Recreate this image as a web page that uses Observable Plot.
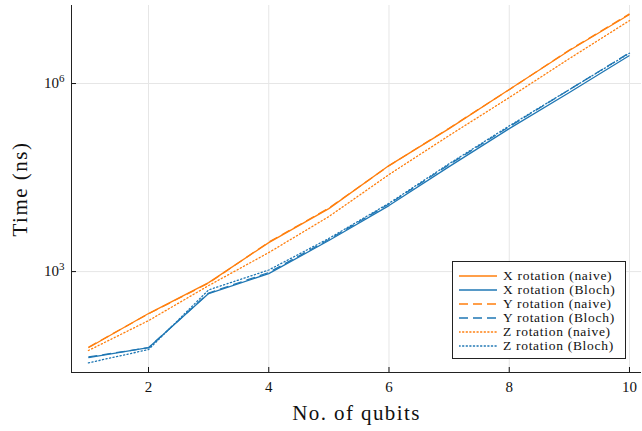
<!DOCTYPE html>
<html>
<head>
<meta charset="utf-8">
<script src="https://cdn.jsdelivr.net/npm/d3@7"></script>
<script src="https://cdn.jsdelivr.net/npm/@observablehq/plot@0.6"></script>
<style>
  html, body { margin: 0; padding: 0; background: #fff; }
  #wrap { position: relative; width: 642px; height: 431px; font-family: "Liberation Serif", serif; }
  #legend { position: absolute; left: 452px; top: 261px; width: 174px; height: 98px; border: 1px solid #222; background: #fff; box-sizing: border-box; }
  #legend .row { position: absolute; left: 0; height: 14px; display: flex; align-items: center; font-size: 13.5px; letter-spacing: 0.7px; color: #111; white-space: nowrap; font-family: "Liberation Serif", serif; }
  #legend svg { margin-left: 6px; margin-right: 6px; }
  #chart svg text { font-family: "Liberation Serif", serif; }
</style>
</head>
<body>
<div id="wrap"><div id="chart"></div><div id="legend"></div></div>
<script>
const qubits = [1, 2, 3, 4, 5, 6, 7, 8, 9, 10];
const xNaive = [61, 214, 667, 2900, 10100, 49100, 191000, 802000, 3360000, 12600000];
const yNaive = [62, 212, 655, 2950, 10300, 48800, 194000, 798000, 3420000, 12900000];
const zNaive = [55, 165, 598, 2010, 7550, 35300, 148000, 597000, 2500000, 10100000];
const xBloch = [42.5, 61, 446, 929, 3130, 11300, 47300, 191000, 718000, 2800000];
const yBloch = [43.5, 61, 455, 965, 3250, 12000, 50900, 205000, 800000, 3100000];
const zBloch = [35, 57, 510, 1060, 3380, 12300, 52500, 211000, 800000, 3050000];
const xTicks = [2, 4, 6, 8, 10];
const yTicks = [1e3, 1e6];

const orange = "#ff7f0e", blue = "#1f77b4";
const series = [
  {name: "X rotation (naive)", values: xNaive, color: orange, dash: null},
  {name: "X rotation (Bloch)", values: xBloch, color: blue, dash: null},
  {name: "Y rotation (naive)", values: yNaive, color: orange, dash: "9,5"},
  {name: "Y rotation (Bloch)", values: yBloch, color: blue, dash: "9,5"},
  {name: "Z rotation (naive)", values: zNaive, color: orange, dash: "1.2,2.4"},
  {name: "Z rotation (Bloch)", values: zBloch, color: blue, dash: "1.2,2.4"}
];

const lineMarks = series.map(s => Plot.line(
  qubits.map((n, i) => ({n, t: s.values[i]})),
  {x: "n", y: "t", stroke: s.color, strokeWidth: 1.3, strokeDasharray: s.dash ?? undefined, strokeLinecap: s.dash && s.dash.startsWith("1.2") ? "round" : "butt"}
));

const chart = Plot.plot({
  width: 642,
  height: 431,
  marginLeft: 71,
  marginRight: 1,
  marginTop: 5,
  marginBottom: 59,
  style: {fontFamily: "'Liberation Serif', serif", background: "#fff", color: "#111"},
  x: {domain: [0.719, 10.2]},
  y: {type: "log", domain: [Math.pow(10, 1.39), Math.pow(10, 7.245)]},
  marks: [
    Plot.gridX(xTicks, {stroke: "#e6e6e6", strokeOpacity: 1, strokeWidth: 1}),
    Plot.gridY(yTicks, {stroke: "#e6e6e6", strokeOpacity: 1, strokeWidth: 1}),
    ...lineMarks,
    Plot.axisX({ticks: xTicks, tickSize: -5, tickFormat: () => "", label: "No. of qubits", labelAnchor: "center", labelOffset: 47}),
    Plot.axisY({ticks: yTicks, tickSize: -5, tickFormat: () => "", label: "Time (ns)", labelAnchor: "center", labelOffset: 59}),
    Plot.text(xTicks, {x: d => d, frameAnchor: "bottom", dy: 15, text: d => String(d), fontSize: 15, lineAnchor: "middle", fill: "#111"}),
    Plot.text(yTicks, {y: d => d, frameAnchor: "left", dx: -7, text: d => "10^" + Math.round(Math.log10(d)), fontSize: 15, textAnchor: "end", lineAnchor: "middle", fill: "#111"}),
    Plot.ruleX([0.719], {stroke: "#222", strokeWidth: 1}),
    Plot.ruleY([Math.pow(10, 1.39)], {stroke: "#222", strokeWidth: 1})
  ]
});
document.getElementById("chart").appendChild(chart);

// Superscript exponents, clean axis labels
d3.select(chart).selectAll("text").each(function() {
  const t = d3.select(this);
  const s = t.text();
  if (/^10\^\d+$/.test(s)) {
    const e = s.split("^")[1];
    t.text(null);
    t.append("tspan").text("10");
    t.append("tspan").attr("font-size", 11).attr("dy", "-0.55em").text(e);
  } else if (s.includes("qubits")) {
    t.text("No. of qubits").style("font-size", "21px").style("letter-spacing", "1.4px");
  } else if (s.includes("Time")) {
    t.text("Time (ns)").style("font-size", "21px").style("letter-spacing", "1.5px");
  }
});

// Legend
const legend = d3.select("#legend");
series.forEach((s, i) => {
  const row = legend.append("div").attr("class", "row").style("top", (7 + i * 14) + "px");
  const svg = row.append("svg").attr("width", 38).attr("height", 6);
  svg.append("line").attr("x1", 0).attr("x2", 38).attr("y1", 3).attr("y2", 3)
    .attr("stroke", s.color).attr("stroke-width", 1.3)
    .attr("stroke-dasharray", s.dash)
    .attr("stroke-linecap", s.dash && s.dash.startsWith("1.2") ? "round" : "butt");
  row.append("span").text(s.name);
});
</script>
</body>
</html>
